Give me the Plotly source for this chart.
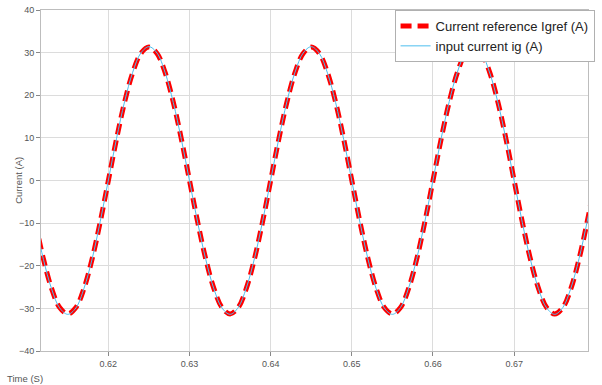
import plotly.graph_objects as go

# Time samples (s) and currents (A)
time_s = [0.611, 0.612, 0.613, 0.614, 0.615, 0.616, 0.617, 0.618, 0.619, 0.620,
          0.621, 0.622, 0.623, 0.624, 0.625, 0.626, 0.627, 0.628, 0.629, 0.630,
          0.631, 0.632, 0.633, 0.634, 0.635, 0.636, 0.637, 0.638, 0.639, 0.640,
          0.641, 0.642, 0.643, 0.644, 0.645, 0.646, 0.647, 0.648, 0.649, 0.650,
          0.651, 0.652, 0.653, 0.654, 0.655, 0.656, 0.657, 0.658, 0.659, 0.660,
          0.661, 0.662, 0.663, 0.664, 0.665, 0.666, 0.667, 0.668, 0.669, 0.670,
          0.671, 0.672, 0.673, 0.674, 0.675, 0.676, 0.677, 0.678, 0.679, 0.680]

iref = [-9.7, -18.4, -25.3, -29.8, -31.3, -29.8, -25.3, -18.4, -9.7, 0.0,
        9.7, 18.4, 25.3, 29.8, 31.3, 29.8, 25.3, 18.4, 9.7, 0.0,
        -9.7, -18.4, -25.3, -29.8, -31.3, -29.8, -25.3, -18.4, -9.7, 0.0,
        9.7, 18.4, 25.3, 29.8, 31.3, 29.8, 25.3, 18.4, 9.7, 0.0,
        -9.7, -18.4, -25.3, -29.8, -31.3, -29.8, -25.3, -18.4, -9.7, 0.0,
        9.7, 18.4, 25.3, 29.8, 31.3, 29.8, 25.3, 18.4, 9.7, 0.0,
        -9.7, -18.4, -25.3, -29.8, -31.3, -29.8, -25.3, -18.4, -9.7, 0.0]

ig = [-9.8, -18.5, -25.4, -29.9, -31.4, -29.9, -25.3, -18.4, -9.6, 0.1,
      9.8, 18.5, 25.4, 29.9, 31.4, 29.9, 25.3, 18.3, 9.6, -0.1,
      -9.8, -18.5, -25.4, -29.9, -31.4, -29.8, -25.2, -18.3, -9.6, 0.1,
      9.8, 18.5, 25.4, 29.9, 31.4, 29.8, 25.2, 18.3, 9.6, -0.1,
      -9.8, -18.5, -25.4, -29.9, -31.4, -29.8, -25.2, -18.3, -9.6, 0.1,
      9.8, 18.5, 25.4, 29.9, 31.4, 29.8, 25.2, 18.3, 9.6, -0.1,
      -9.8, -18.5, -25.4, -29.9, -31.4, -29.8, -25.2, -18.3, -9.6, 0.1]

x_ticks = [0.62, 0.63, 0.64, 0.65, 0.66, 0.67]
x_tick_labels = ["0.62", "0.63", "0.64", "0.65", "0.66", "0.67"]
y_ticks = [-40, -30, -20, -10, 0, 10, 20, 30, 40]

fig = go.Figure()
fig.add_trace(go.Scatter(
    x=time_s, y=iref, mode="lines", name="Current reference Igref (A)",
    line=dict(color="#ff0000", width=5, dash="11px,6px", shape="spline", smoothing=1.0),
))
fig.add_trace(go.Scatter(
    x=time_s, y=ig, mode="lines", name="input current ig (A)",
    line=dict(color="#4dbeee", width=1, shape="spline", smoothing=1.0),
))

FONT = "Liberation Sans, Arial, sans-serif"
axis_font = dict(family=FONT, size=9, color="#555555")

fig.update_layout(
    width=602, height=385,
    margin=dict(l=41, r=7, t=10, b=34),
    paper_bgcolor="white", plot_bgcolor="white",
    font=dict(family=FONT, color="#333333"),
    showlegend=True,
    legend=dict(
        x=1.012, y=1.0, xanchor="right", yanchor="top",
        bgcolor="white", bordercolor="#b0b0b0", borderwidth=1,
        font=dict(family=FONT, size=13, color="#222222"),
        itemwidth=30, tracegroupgap=0,
    ),
    xaxis=dict(
        range=[0.6117, 0.6791], tickvals=x_ticks, ticktext=x_tick_labels,
        tickfont=axis_font, showgrid=True, gridcolor="#dcdcdc", gridwidth=1,
        zeroline=False, showline=True, linecolor="#bdbdbd", mirror=True,
        ticks="outside", ticklen=4, tickcolor="#888888", automargin=False,
    ),
    yaxis=dict(
        range=[-40, 40], tickvals=y_ticks,
        tickfont=axis_font, showgrid=True, gridcolor="#dcdcdc", gridwidth=1,
        zeroline=False, showline=True, linecolor="#bdbdbd", mirror=True,
        ticks="outside", ticklen=4, tickcolor="#888888", automargin=False,
    ),
    annotations=[
        dict(
            text="Time (S)", xref="paper", yref="paper", x=-0.066, y=-0.08,
            xanchor="left", yanchor="middle", showarrow=False,
            font=dict(family=FONT, size=9.5, color="#555555"),
        ),
        dict(
            text="Current (A)", xref="paper", yref="paper", x=-0.0415, y=0.5,
            xanchor="center", yanchor="middle", textangle=-90, showarrow=False,
            font=dict(family=FONT, size=9.5, color="#555555"),
        ),
    ],
)

fig.write_html(
    "out.html",
    config={"displayModeBar": False},
    post_script="document.body.style.margin='0';document.body.style.overflow='hidden';",
)
